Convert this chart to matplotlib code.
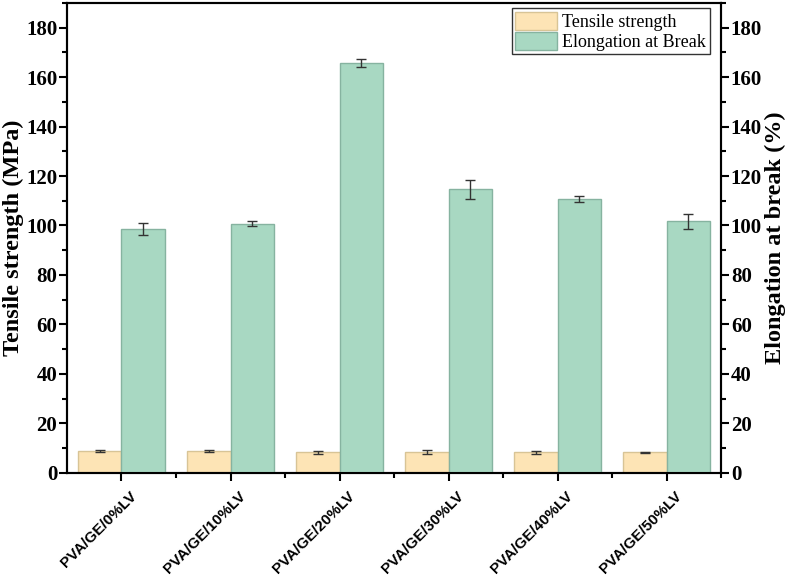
import matplotlib.pyplot as plt
import matplotlib.transforms as mtransforms
import numpy as np
from matplotlib.ticker import MultipleLocator

# data
samples = ['PVA/GE/0%LV', 'PVA/GE/10%LV', 'PVA/GE/20%LV',
           'PVA/GE/30%LV', 'PVA/GE/40%LV', 'PVA/GE/50%LV']
tensile = [8.7, 8.7, 8.2, 8.2, 8.2, 8.3]
tensile_err = [0.3, 0.3, 0.5, 0.8, 0.5, 0.2]
elongation = [98.6, 100.7, 165.8, 114.6, 110.6, 101.7]
elongation_err = [2.6, 1.1, 1.7, 3.8, 1.2, 3.0]

serif = 'Liberation Serif'
sans = 'Liberation Sans'

fig = plt.figure(figsize=(7.9, 5.79), dpi=100)
ax = fig.add_axes([0.0848, 0.1836, 0.8279, 0.8112])
ax2 = ax.twinx()

x = np.arange(len(samples))
w = 0.4
err_kw = dict(ecolor='#333333', elinewidth=1.0, capsize=3.5, capthick=1.0)
b1 = ax.bar(x - w / 2, tensile, w, yerr=tensile_err, color='#fde4b5',
            edgecolor='#d8c496', linewidth=1.0, error_kw=err_kw,
            label='Tensile strength')
b2 = ax2.bar(x + w / 2, elongation, w, yerr=elongation_err, color='#a8d8c2',
             edgecolor='#86b3a0', linewidth=1.0, error_kw=err_kw,
             label='Elongation at Break')

for a in (ax, ax2):
    a.set_ylim(0, 190)
    a.yaxis.set_major_locator(MultipleLocator(20))
    a.yaxis.set_minor_locator(MultipleLocator(10))
    for s in a.spines.values():
        s.set_linewidth(1.5)
    a.tick_params(axis='y', which='major', direction='out', length=6, width=1.5,
                  labelsize=15, pad=1)
    a.tick_params(axis='y', which='minor', direction='out', length=3.5, width=1.5)
    for lab in a.get_yticklabels():
        lab.set_fontfamily(serif)
        lab.set_fontweight('bold')

ax.set_xlim(-0.5, 5.5)
ax.set_xticks(x)
ax.set_xticks(x + 0.5, minor=True)
ax.set_xticklabels(samples, rotation=45, ha='right', rotation_mode='anchor',
                   fontsize=11, fontweight='bold', fontfamily=sans)
ax.tick_params(axis='x', which='major', direction='out', length=6, width=1.5, pad=6)
ax.tick_params(axis='x', which='minor', direction='out', length=3.5, width=1.5)
shift = mtransforms.ScaledTranslation(0.08, 0, fig.dpi_scale_trans)
for lab in ax.get_xticklabels():
    lab.set_transform(lab.get_transform() + shift)

ax.set_ylabel('Tensile strength (MPa)', fontsize=17.5, fontweight='bold',
              fontfamily=serif)
ax.yaxis.set_label_coords(-0.066, 0.5)
ax2.set_ylabel('Elongation at break (%)', fontsize=17.5, fontweight='bold',
               fontfamily=serif)
ax2.yaxis.set_label_coords(1.067, 0.5)

leg = ax.legend(handles=[b1, b2], loc='upper right', bbox_to_anchor=(0.983, 0.989),
                prop={'family': serif, 'size': 13}, frameon=True, fancybox=False,
                handlelength=2.3, handleheight=1.15, handletextpad=0.3,
                borderpad=0.2, labelspacing=0.05, borderaxespad=0.0)
leg.get_frame().set_edgecolor('black')
leg.get_frame().set_linewidth(1.0)

plt.savefig('out.png', dpi=100)
